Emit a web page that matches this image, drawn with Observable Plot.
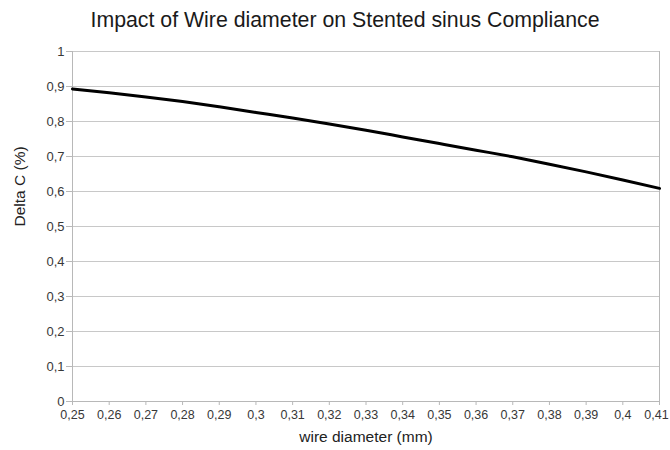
<!DOCTYPE html>
<html>
<head>
<meta charset="utf-8">
<script src="https://cdn.jsdelivr.net/npm/d3@7"></script>
<script src="https://cdn.jsdelivr.net/npm/@observablehq/plot@0.6"></script>
<style>
  html, body { margin: 0; padding: 0; background: #fff; }
  #title { box-sizing: border-box; width: 670px; height: 36px; padding-left: 20px; padding-top: 9px;
    text-align: center; font-family: "Liberation Sans", Arial, sans-serif; font-size: 21.3px; color: #1a1a1a; line-height: 22px; }
</style>
</head>
<body>
<div id="title">Impact of Wire diameter on Stented sinus Compliance</div>
<div id="chart"></div>
<script>
const titleText = "Impact of Wire diameter on Stented sinus Compliance";
const xLabel = "wire diameter (mm)";
const yLabel = "Delta C (%)";
const wireDiameter = [0.25, 0.26, 0.27, 0.28, 0.29, 0.30, 0.31, 0.32, 0.33, 0.34, 0.35, 0.36, 0.37, 0.38, 0.39, 0.40, 0.41];
const deltaC = [0.893, 0.882, 0.870, 0.857, 0.842, 0.826, 0.810, 0.793, 0.775, 0.756, 0.737, 0.718, 0.699, 0.678, 0.656, 0.633, 0.609];
const xTicks = [0.25, 0.26, 0.27, 0.28, 0.29, 0.3, 0.31, 0.32, 0.33, 0.34, 0.35, 0.36, 0.37, 0.38, 0.39, 0.4, 0.41];
const yTicks = [0, 0.1, 0.2, 0.3, 0.4, 0.5, 0.6, 0.7, 0.8, 0.9, 1];

document.getElementById("title").textContent = titleText;
const data = wireDiameter.map((x, i) => ({x, y: deltaC[i]}));
const fmt = d => String(+d.toFixed(2)).replace(".", ",");
const gray = "#b8b8b8";
const lastX = xTicks[xTicks.length - 1];

const chart = Plot.plot({
  width: 670,
  height: 414,
  marginTop: 15,
  marginBottom: 49,
  marginLeft: 72,
  marginRight: 11,
  style: {fontFamily: "'Liberation Sans', Arial, sans-serif", fontSize: "12.5px", color: "#333", background: "#fff"},
  x: {domain: [0.25, 0.41]},
  y: {domain: [0, 1]},
  marks: [
    Plot.gridY(yTicks, {stroke: "#c8c8c8", strokeOpacity: 1}),
    Plot.ruleX([0.25, 0.41], {stroke: gray}),
    Plot.ruleY([0], {stroke: gray}),
    Plot.axisX({ticks: xTicks, tickFormat: d => d === lastX ? "" : fmt(d), tickSize: 4, tickPadding: 5, stroke: gray, label: null, fill: "#383838"}),
    Plot.axisX({ticks: [lastX], tickFormat: fmt, tickSize: 0, tickPadding: 9, dx: -3, stroke: "none", label: null, fill: "#383838"}),
    Plot.axisY({ticks: yTicks, tickFormat: fmt, tickSize: 6, tickPadding: 2, stroke: gray, label: null, fill: "#383838", fontSize: 13}),
    Plot.line(data, {x: "x", y: "y", curve: "monotone-x", stroke: "#000", strokeWidth: 3}),
    Plot.text([xLabel], {frameAnchor: "bottom", dy: 40, fontSize: 15.5, fill: "#222"}),
    Plot.text([yLabel], {frameAnchor: "left", rotate: -90, dx: -52, fontSize: 15.5, fill: "#222"})
  ]
});
document.getElementById("chart").appendChild(chart);
</script>
</body>
</html>
